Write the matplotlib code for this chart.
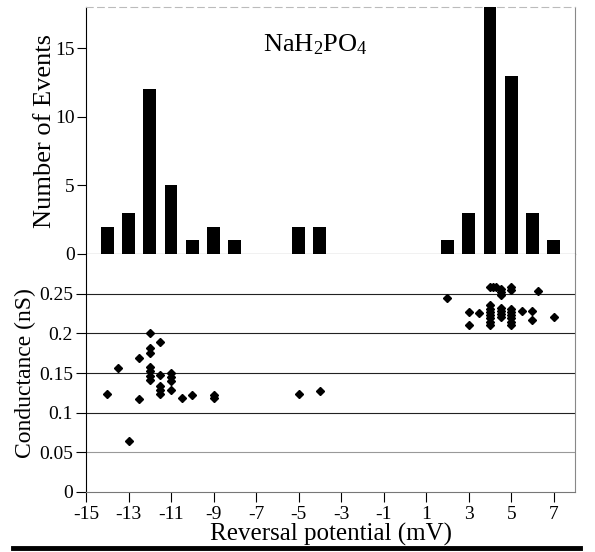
import matplotlib
matplotlib.use("Agg")
import matplotlib.pyplot as plt
from matplotlib.lines import Line2D
import numpy as np

plt.rcParams['font.family'] = ['Liberation Serif', 'DejaVu Serif']
plt.rcParams['mathtext.fontset'] = 'custom'
plt.rcParams['mathtext.rm'] = 'Liberation Serif'
plt.rcParams['mathtext.it'] = 'Liberation Serif:italic'

# Histogram data (bin centres in mV, counts)
hist_x = [-14, -13, -12, -11, -10, -9, -8, -7, -6, -5, -4, -3, -2, -1, 0, 1, 2, 3, 4, 5, 6, 7]
hist_n = [2, 3, 12, 5, 1, 2, 1, 0, 0, 2, 2, 0, 0, 0, 0, 0, 1, 3, 18, 13, 3, 1]

# Scatter data: reversal potential (mV) vs conductance (nS)
rev_left = [-14, -13.5, -13, -12.5, -12.5,
            -12, -12, -12, -12, -12, -12, -12,
            -11.5, -11.5, -11.5, -11.5, -11.5,
            -11, -11, -11, -11,
            -10.5, -10, -9, -9, -5, -4]
cond_left = [0.123, 0.156, 0.064, 0.169, 0.117,
             0.200, 0.182, 0.175, 0.158, 0.152, 0.146, 0.141,
             0.189, 0.147, 0.133, 0.128, 0.123,
             0.150, 0.145, 0.140, 0.128,
             0.119, 0.122, 0.122, 0.118, 0.123, 0.127]
rev_right = [2, 3, 3, 3.5,
             4, 4, 4, 4, 4, 4, 4, 4,
             4.15, 4.3,
             4.5, 4.5, 4.5, 4.5, 4.5, 4.5, 4.5,
             5, 5, 5, 5, 5, 5, 5, 5,
             5.5, 6, 6, 6.25, 7]
cond_right = [0.245, 0.227, 0.211, 0.226,
              0.258, 0.236, 0.231, 0.227, 0.223, 0.219, 0.214, 0.210,
              0.258, 0.258,
              0.256, 0.252, 0.248, 0.232, 0.228, 0.224, 0.220,
              0.258, 0.254, 0.231, 0.227, 0.223, 0.219, 0.214, 0.210,
              0.228, 0.228, 0.217, 0.253, 0.221]

grid_levels = [0.05, 0.1, 0.15, 0.2, 0.25]
x_ticks = [-15, -13, -11, -9, -7, -5, -3, -1, 1, 3, 5, 7]

fig = plt.figure(figsize=(5.95, 5.52), dpi=100)
L = 86 / 595
W = (575 - 86) / 595
ax1 = fig.add_axes([L, 1 - 254 / 552, W, 247 / 552])
ax2 = fig.add_axes([L, 1 - 492 / 552, W, 238 / 552])

# --- upper histogram ---
ax1.bar(hist_x, hist_n, width=0.6, color='black', zorder=3)
ax1.set_xlim(-15, 8)
ax1.set_ylim(0, 18)
ax1.set_yticks([0, 5, 10, 15])
ax1.set_xticks(np.arange(-14, 8, 1))
ax1.set_xticklabels([])
ax1.tick_params(axis='x', direction='out', length=6, width=0.8)
ax1.tick_params(axis='y', direction='out', length=6.5, width=0.8, labelsize=14, pad=1.5)
ax1.set_ylabel('Number of Events', fontsize=19)
ax1.yaxis.set_label_coords(-0.061, 0.5)
ax1.spines['top'].set_color('#bbbbbb')
ax1.spines['top'].set_linestyle((0, (6, 4)))
ax1.spines['right'].set_color('#888888')
ax1.text(0.47, 0.822, 'NaH$_2$PO$_4$', transform=ax1.transAxes,
         fontsize=19, ha='center', va='baseline')

# --- lower scatter ---
for g in grid_levels:
    ax2.axhline(g, color='#222222' if g > 0.06 else '#999999', lw=0.8, zorder=1)
ax2.plot(rev_left, cond_left, 'D', color='black', markersize=4.4, zorder=3)
ax2.plot(rev_right, cond_right, 'D', color='black', markersize=4.4, zorder=3)
ax2.set_xlim(-15, 8)
ax2.set_ylim(0, 0.3)
ax2.set_yticks([0, 0.05, 0.1, 0.15, 0.2, 0.25])
ax2.set_yticklabels(['0', '0.05', '0.1', '0.15', '0.2', '0.25'])
ax2.set_xticks(x_ticks)
ax2.set_xticklabels([str(t) for t in x_ticks])
ax2.tick_params(axis='both', direction='out', length=7, width=0.8, labelsize=14)
ax2.tick_params(axis='y', pad=2.5)
ax2.tick_params(axis='x', pad=3)
ax2.set_xlabel('Reversal potential (mV)', fontsize=18, labelpad=0)
ax2.set_ylabel('Conductance (nS)', fontsize=17)
ax2.yaxis.set_label_coords(-0.102, 0.5)
ax2.spines['top'].set_visible(False)
ax2.spines['bottom'].set_color('#777777')
ax2.spines['right'].set_color('#888888')

# thick rule under the figure
fig.add_artist(Line2D([13 / 595, 580 / 595], [1 - 548 / 552, 1 - 548 / 552],
                      transform=fig.transFigure, color='black', lw=3.5))

fig.savefig('out.png', dpi=100)
